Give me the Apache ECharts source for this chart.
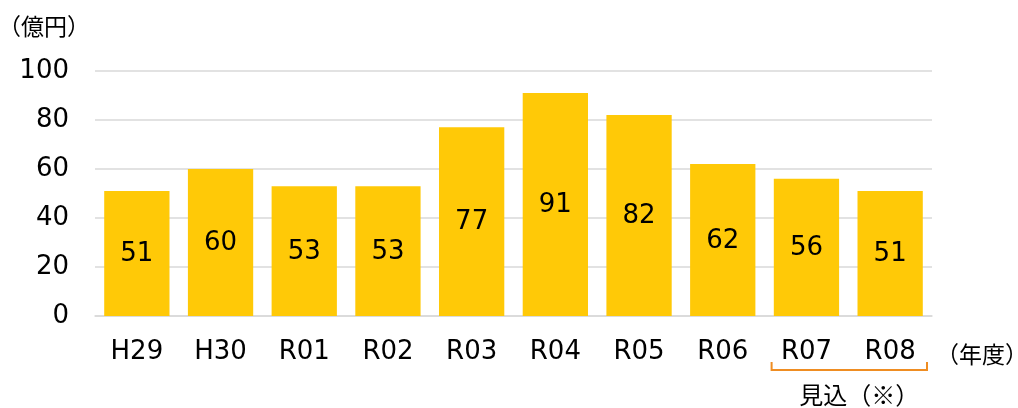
<!DOCTYPE html>
<html><head><meta charset="utf-8">
<script src="https://cdn.jsdelivr.net/npm/echarts@6/dist/echarts.min.js"></script>
<style>html,body{margin:0;padding:0;background:#fff}#c{width:1018px;height:408px}</style>
</head><body><div id="c"></div>
<script>
const categories = ['H29','H30','R01','R02','R03','R04','R05','R06','R07','R08'];
const values = [51, 60, 53, 53, 77, 91, 82, 62, 56, 51];
const yTicks = [0, 20, 40, 60, 80, 100];
const forecastCats = ['R07','R08'];

const FONT = '"DejaVu Sans", Verdana, sans-serif';
const CJK = '"Noto Sans CJK JP", sans-serif';
const chart = echarts.init(document.getElementById('c'));
chart.setOption({
  animation: false,
  grid: {left: 95, right: 86, top: 71, bottom: 92, containLabel: false, outerBoundsMode: 'none'},
  title: {text: '（億円）', left: -7, top: 10, textStyle: {fontFamily: CJK, fontWeight: 'normal', fontSize: 23, color: '#000'}},
  xAxis: {
    type: 'category', data: categories,
    axisLine: {lineStyle: {color: '#d9d9d9', width: 1.5}},
    axisTick: {show: false},
    axisLabel: {fontFamily: FONT, fontSize: 26, color: '#000', margin: 23},
    name: '（年度）', nameLocation: 'end', nameGap: 4,
    nameTextStyle: {fontFamily: CJK, fontSize: 23, color: '#000', verticalAlign: 'top', padding: [27, 0, 0, 0]}
  },
  yAxis: {
    type: 'value', min: yTicks[0], max: yTicks[yTicks.length-1], interval: 20,
    axisLine: {show: false}, axisTick: {show: false},
    splitLine: {lineStyle: {color: '#d9d9d9', width: 1.5}},
    axisLabel: {fontFamily: FONT, fontSize: 26, color: '#000', margin: 26}
  },
  series: [{
    type: 'bar', data: values, barCategoryGap: '22%',
    itemStyle: {color: '#FFC907'},
    label: {show: true, position: 'inside', offset: [0, 1], fontFamily: FONT, fontSize: 26, color: '#000'}
  }]
});
function drawBracket(){
  const i0 = categories.indexOf(forecastCats[0]);
  const i1 = categories.indexOf(forecastCats[forecastCats.length-1]);
  const band = chart.convertToPixel({xAxisIndex: 0}, categories[1]) - chart.convertToPixel({xAxisIndex: 0}, categories[0]);
  const xa = chart.convertToPixel({xAxisIndex: 0}, categories[i0]) - band/2 + 7;
  const xb = chart.convertToPixel({xAxisIndex: 0}, categories[i1]) + band/2 - 5;
  const y0 = chart.convertToPixel({yAxisIndex: 0}, 0);
  const yb = y0 + 54;
  chart.setOption({graphic: [
    {type: 'polyline', shape: {points: [[xa, yb-8],[xa, yb],[xb, yb],[xb, yb-8]]}, style: {stroke: '#EF8D22', lineWidth: 2, fill: null}},
    {type: 'text', x: (xa+xb)/2 + 10, y: yb + 25, style: {text: '見込（※）', font: '24px ' + CJK, fill: '#000', align: 'center', verticalAlign: 'middle'}}
  ]});
}
drawBracket();
</script></body></html>
